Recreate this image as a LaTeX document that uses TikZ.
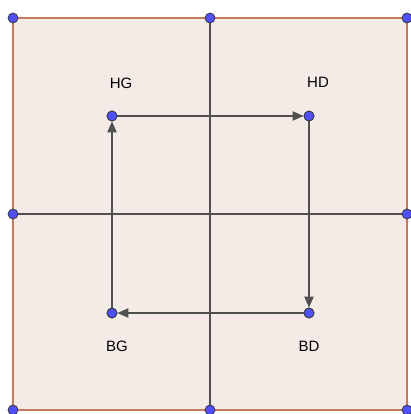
\documentclass[tikz,border=0pt]{standalone}
\usepackage{fontspec}
\setmainfont{Liberation Sans}
\usetikzlibrary{arrows.meta,positioning}
\definecolor{fondrose}{RGB}{245,235,230}
\definecolor{bordbrun}{RGB}{196,122,88}
\definecolor{traitgris}{RGB}{80,80,80}
\definecolor{ptbleu}{RGB}{80,80,250}

\begin{document}
\begin{tikzpicture}[x=1pt, y=-1pt,
  pt/.style={circle, draw=black!80, fill=ptbleu, line width=0.7pt, inner sep=0pt, minimum size=10pt},
  lbl/.style={font=\fontsize{15}{15}\selectfont, text=black},
  axe/.style={traitgris, line width=2pt},
  fleche/.style={traitgris, line width=2pt, -{Triangle[length=11pt, width=9pt]}}
]
  \useasboundingbox (0,0) rectangle (411,414);

  % Carre
  \fill[fondrose] (13,18) rectangle (407,410);
  \draw[bordbrun, line width=2pt] (13,18) rectangle (407,410);

  % Points du bord
  \coordinate (c1) at (13,18);
  \coordinate (c2) at (210,18);
  \coordinate (c3) at (407,18);
  \coordinate (c4) at (13,214);
  \coordinate (c5) at (407,214);
  \coordinate (c6) at (13,410);
  \coordinate (c7) at (210,410);
  \coordinate (c8) at (407,410);

  % Axes
  \draw[axe] (c2) -- (c7);
  \draw[axe] (c4) -- (c5);

  % Sommets
  \node[pt] (hg) at (112,116) {};
  \node[pt] (hd) at (309,116) {};
  \node[pt] (bd) at (309,313) {};
  \node[pt] (bg) at (112,313) {};

  % Etiquettes
  \node[lbl] (hg_l) at (121,83) {HG};
  \node[lbl] (hd_l) at (318,82) {HD};
  \node[lbl] (bd_l) at (309,346) {BD};
  \node[lbl] (bg_l) at (117,346) {BG};

  % Circuit
  \draw[fleche] (hg) -- (hd);
  \draw[fleche] (hd) -- (bd);
  \draw[fleche] (bd) -- (bg);
  \draw[fleche] (bg) -- (hg);

  % Points par-dessus
  \foreach \c in {c1,c2,c3,c4,c5,c6,c7,c8}
    \node[pt] (p\c) at (\c) {};
  \foreach \s in {hg,hd,bd,bg}
    \node[pt] at (\s) {};
\end{tikzpicture}
\end{document}
